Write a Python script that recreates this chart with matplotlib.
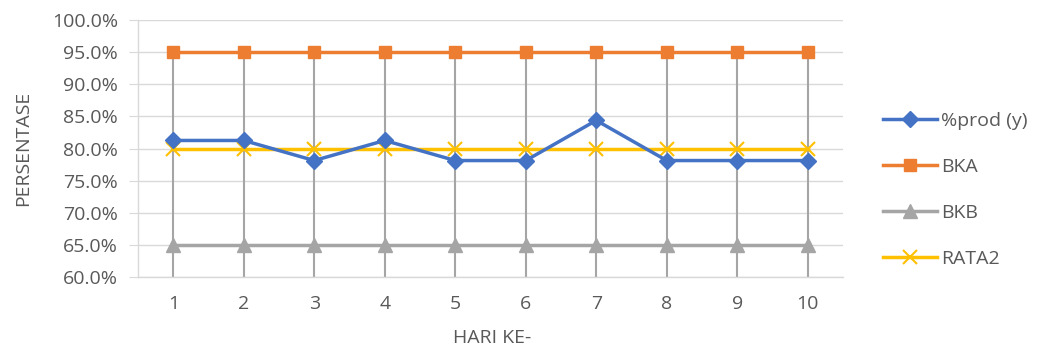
import matplotlib
matplotlib.use("Agg")
import matplotlib.pyplot as plt
from matplotlib.ticker import FuncFormatter

days = [1, 2, 3, 4, 5, 6, 7, 8, 9, 10]
prod = [0.8125, 0.8125, 0.78125, 0.8125, 0.78125, 0.78125, 0.84375, 0.78125, 0.78125, 0.78125]
bka = [0.95] * 10
bkb = [0.65] * 10
rata2 = [0.80] * 10

plt.rcParams["font.family"] = ["Open Sans", "DejaVu Sans"]
text_color = "#595959"
fs = 14

W, H = 1038, 354
fig = plt.figure(figsize=(W / 100, H / 100), dpi=100)
ax = fig.add_axes([138 / W, 1 - 277 / H, (843 - 138) / W, (277 - 20) / H])

ax.set_xlim(0.5, 10.5)
ax.set_ylim(0.60, 1.00)
ax.set_yticks([0.60 + 0.05 * i for i in range(9)])
ax.yaxis.set_major_formatter(FuncFormatter(lambda v, _: f"{v * 100:.1f}%"))
ax.set_xticks(days)
ax.set_xticklabels([str(d) for d in days])

ax.grid(axis="y", color="#D9D9D9", linewidth=1.0, zorder=0)
ax.set_axisbelow(True)

# drop lines from the highest series down to the category axis
tops = [max(a, b, c, d) for a, b, c, d in zip(prod, bka, bkb, rata2)]
ax.vlines(days, 0.60, tops, color="#A5A5A5", linewidth=1.5, zorder=1)

ax.plot(days, prod, color="#4472C4", linewidth=2.5, marker="D", markersize=8,
        label="%prod (y)", zorder=4)
ax.plot(days, bka, color="#ED7D31", linewidth=2.5, marker="s", markersize=9,
        label="BKA", zorder=3)
ax.plot(days, bkb, color="#A5A5A5", linewidth=2.5, marker="^", markersize=10,
        label="BKB", zorder=3)
ax.plot(days, rata2, color="#FFC000", linewidth=2.5, marker="x", markersize=10,
        markeredgewidth=1.5, label="RATA2", zorder=3)

for side in ("top", "right"):
    ax.spines[side].set_visible(False)
for side in ("left", "bottom"):
    ax.spines[side].set_color("#D9D9D9")
    ax.spines[side].set_linewidth(1.0)

ax.tick_params(axis="y", length=6.5, color="#D9D9D9", labelsize=fs,
               labelcolor=text_color, pad=8)
ax.tick_params(axis="x", length=0, labelsize=fs, labelcolor=text_color, pad=13)

fig.text(23 / W, 1 - 148 / H, "PERSENTASE", rotation=90, ha="center",
         va="center", color=text_color, fontsize=fs)
fig.text(492 / W, 1 - 338 / H, "HARI KE-", ha="center", va="center",
         color=text_color, fontsize=fs)

leg = fig.legend(*ax.get_legend_handles_labels(), loc="center left",
                 bbox_to_anchor=(883 / W, 1 - 190 / H),
                 bbox_transform=fig.transFigure, frameon=False,
                 fontsize=fs, labelspacing=1.45, handlelength=2.8,
                 handletextpad=0.2, borderpad=0, borderaxespad=0)
for t in leg.get_texts():
    t.set_color(text_color)

fig.savefig("out.png", dpi=100)
